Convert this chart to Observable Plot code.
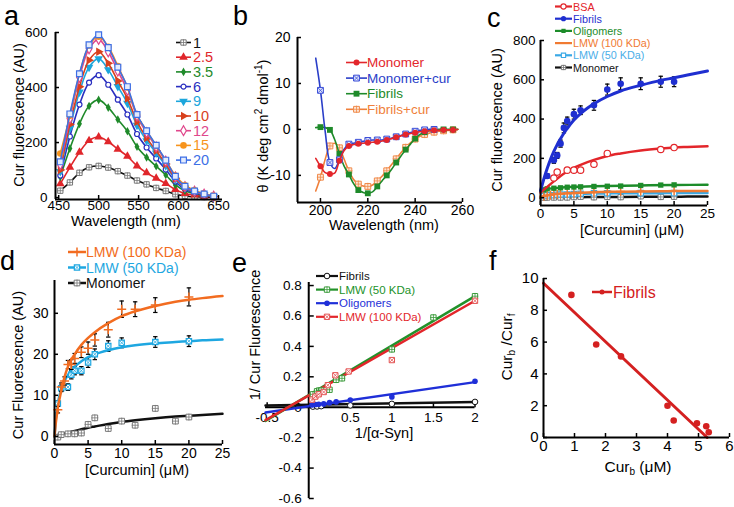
<!DOCTYPE html>
<html><head><meta charset="utf-8">
<script src="https://cdn.jsdelivr.net/npm/d3@7"></script>
<script src="https://cdn.jsdelivr.net/npm/@observablehq/plot@0.6"></script>
<style>
body{margin:0;background:#fff;}
#wrap{position:relative;width:734px;height:507px;overflow:hidden;background:#fff;font-family:"Liberation Sans",Arial,Helvetica,sans-serif;}
#wrap > svg{position:absolute;left:0;top:0;}
</style></head><body><div id="wrap"></div>
<script>
// ================= DATA =================
// Panel a: curcumin fluorescence spectra at increasing fibril concentration
const aWavelength = [452,464,476,488,500,512,524,536,548,560,572,584,596,608,620,632,644];
const aConcLabels = ["1","2.5","3.5","6","9","10","12","15","20"];
const aConc1   = [25,55,90,110,115,109,96,80,62,48,35,24,12,6,3,2,1];
const aConc2_5 = [50,110,165,207,220,203,176,150,115,90,70,51,29,15,9,5,2];
const aConc3_5 = [75,178,268,333,355,327,284,241,185,146,114,82,46,25,14,8,3];
const aConc6   = [80,222,338,418,445,410,356,302,231,182,142,102,58,31,18,10,4];
const aConc9   = [95,252,384,474,505,465,404,343,263,207,162,116,66,35,20,11,4];
const aConc10  = [100,266,403,499,530,488,424,360,276,217,170,122,69,37,21,12,4];
const aConc12  = [120,287,437,541,575,530,460,390,296,236,184,132,75,40,23,12,5];
const aConc15  = [160,297,450,553,585,548,478,400,300,243,188,135,80,45,26,14,6];
const aConc20  = [130,304,450,555,592,545,474,403,302,243,190,136,77,41,24,13,5];
const aSeries = [aConc1,aConc2_5,aConc3_5,aConc6,aConc9,aConc10,aConc12,aConc15,aConc20];

// Panel b: CD spectra
const bWavelength = [198,200,202,204,206,208,210,212,214,216,218,220,222,224,226,228,230,232,234,236,238,240,242,244,246,248,250,252,254,256,258];
const bLabels = ["Monomer","Monomer+cur","Fibrils","Fibrils+cur"];
const bMonomer    = [-6.3,-8.0,-9.4,-9.7,-9.5,-6.8,-4.6,-3.6,-3.3,-3.1,-3.0,-2.9,-2.8,-2.7,-2.5,-2.3,-2.0,-1.7,-1.4,-1.1,-0.9,-0.7,-0.5,-0.4,-0.3,-0.2,-0.2,-0.1,-0.1,-0.1,0];
const bMonomerCur = [15.5,8.5,-0.5,-7.2,-8.5,-6.6,-4.3,-3.2,-3.0,-2.8,-2.6,-2.4,-2.3,-2.3,-2.3,-2.1,-1.9,-1.6,-1.3,-1.0,-0.7,-0.4,-0.2,-0.1,0,0,null,null,null,null,null];
const bFibrils    = [0.4,0.5,0.4,-0.1,-2.2,-5.3,-8.0,-9.8,-11.8,-13.2,-13.7,-13.9,-13.6,-12.4,-11.2,-10.0,-8.7,-7.2,-5.8,-4.4,-3.2,-2.0,-1.1,-0.6,-0.3,-0.1,0,0,0,0,0];
const bFibrilsCur = [-13.4,-10.4,-6.5,-3.6,-3.0,-4.0,-6.5,-9.0,-10.9,-11.9,-12.3,-12.4,-12.1,-11.2,-10.2,-9.0,-7.7,-6.4,-5.1,-3.9,-2.9,-2.1,-1.5,-1.1,-0.8,-0.6,-0.4,-0.3,-0.2,-0.1,0];

// Panel c: binding curves
const cLabels = ["BSA","Fibrils","Oligomers","LMW (100 KDa)","LMW (50 KDa)","Monomer"];
const cFibrilsX   = [1,2,2.5,3,3.5,4,5,6,8,10,12,15,18,20];
const cFibrilsY   = [110,190,215,275,355,390,425,445,470,550,580,580,590,590];
const cFibrilsErr = [12,15,15,18,25,20,25,22,25,28,30,30,28,25];
const cFibrilsFitX = [0,0.5,1,1.5,2,2.5,3,3.5,4,5,6,7,8,10,12,15,18,20,22,25];
const cFibrilsFitY = [35,95,148,195,235,270,300,328,352,395,428,455,478,515,543,572,597,610,624,645];
const cBsaX   = [2,2.5,4,5,6,8,10,18,20];
const cBsaY   = [100,130,140,140,140,170,225,245,255];
const cBsaErr = [5,5,5,5,5,8,10,8,8];
const cBsaFitX = [0,1,2,3,4,5,6,8,10,12,15,18,20,22,25];
const cBsaFitY = [25,55,83,110,133,152,167,192,212,225,240,250,255,258,262];
const cOligoX = [0.5,1,2,3,4,5,6,8,10,12,15,18,20];
const cOligoY = [40,45,48,50,53,54,55,57,58,59,62,64,65];
const cOligoFitX = [0,1,2,3,4,5,6,8,10,15,20,25];
const cOligoFitY = [35,44,48,51,53,55,56,58,59,62,64,66];

// Panel d: LMW and monomer binding
const dLabels = ["LMW (100 KDa)","LMW (50 KDa)","Monomer"];
const dLmw100X   = [0.5,1,1.5,2,2.5,3,4,5,6,8,10,12,15,20];
const dLmw100Y   = [6.5,12,13.5,17.5,17.5,19,20.5,21.5,23.5,26,31,31,32,34];
const dLmw100Err = [0.8,1,1,1,1.2,1.2,1.3,1.5,1.5,1.8,2,1.8,1.8,2.2];
const dLmw100FitX = [0,0.25,0.5,1,1.5,2,3,4,5,6,8,10,12,15,18,20,22,25];
const dLmw100FitY = [0,4,7,11,14.5,17,20,22.3,24,25.4,27.6,29.3,30.5,31.8,32.8,33.3,33.7,34.2];
const dLmw50X   = [0.5,1,2,2.5,3,4,5,6,8,10,15,20];
const dLmw50Y   = [8,11.7,12,15,16,16,18,20,22,22.8,23,23.2];
const dLmw50Err = [0.7,0.8,0.8,1,1,1,1.2,1.3,1.3,1.2,1.3,1.3];
const dLmw50FitX = [0,0.25,0.5,1,1.5,2,3,4,5,6,8,10,12,15,18,20,22,25];
const dLmw50FitY = [0,5,8,11.5,13.5,15,17,18.3,19.3,20,21,21.7,22.2,22.7,23,23.2,23.4,23.6];
const dMonoX = [0.5,1,2,3,4,5,6,8,10,12,15,18,20];
const dMonoY = [-0.2,0.4,0.6,0.6,0.8,2.9,4.5,1.9,3.7,2.7,6.8,3.7,4.7];
const dMonoFitX = [0,1,2,3,4,5,6,8,10,12,15,18,20,22,25];
const dMonoFitY = [0,0.5,0.9,1.3,1.7,2.1,2.4,3.0,3.5,3.9,4.4,4.8,5.0,5.2,5.5];

// Panel e: double reciprocal plot
const eLabels = ["Fibrils","LMW (50 KDa)","Oligomers","LMW (100 KDa)"];
const eFibX = [0.05,0.1,0.15,0.5,1,2];
const eFibY = [0.004,0.005,0.007,0.012,0.022,0.035];
const eFibFitX = [-0.52,2];  const eFibFitY = [0.012,0.034];
const eL50X = [0.05,0.1,0.125,0.15,0.25,0.33,0.4,1,1.5,2];
const eL50Y = [0.085,0.105,0.11,0.11,0.115,0.18,0.19,0.38,0.59,0.73];
const eL50FitX = [-0.52,2];  const eL50FitY = [-0.09,0.73];
const eOliX = [0.04,0.08,0.12,0.18,0.25,0.33,0.5,1,2];
const eOliY = [0.015,0.018,0.02,0.022,0.03,0.035,0.048,0.068,0.171];
const eOliFitX = [-0.52,2];  const eOliFitY = [-0.035,0.165];
const eL100X = [0.04,0.08,0.12,0.18,0.23,0.32,0.48,1,2];
const eL100Y = [0.05,0.07,0.085,0.1,0.145,0.21,0.235,0.31,0.70];
const eL100FitX = [-0.52,2]; const eL100FitY = [-0.085,0.70];
const eXTicks = [-0.5,0.5,1,1.5,2];
const eYTicks = [0.8,0.6,0.4,0.2,0,-0.2,-0.4,-0.6];

// Panel f: Scatchard plot
const fLabel = "Fibrils";
const fCurbX = [0.9,1.7,2.5,4.0,4.2,4.95,5.25,5.33];
const fRatioY = [8.97,5.85,5.1,2.0,1.07,0.9,0.71,0.33];
const fFitX = [0,5.28]; const fFitY = [9.7,0];

// ================= HELPERS =================
const FONT = '"Liberation Sans", Arial, Helvetica, sans-serif';
const W = 734, H = 507;
const wrap = document.getElementById("wrap");
const rows = (xs, ys, es) => xs.map((x,i)=>({x, y: ys[i], e: es ? es[i] : 0})).filter(d => d.y != null);
const hline = {draw(ctx, size){ const w = Math.sqrt(size/Math.PI); ctx.moveTo(-w,0); ctx.lineTo(w,0);} };
const vline = {draw(ctx, size){ const w = Math.sqrt(size/Math.PI); ctx.moveTo(0,-w); ctx.lineTo(0,w);} };

function pts(data, mk) {
  const out = [Plot.dot(data, {x:"x", y:"y", symbol: mk.sym, r: mk.r, fill: mk.fill, stroke: mk.stroke || "none", strokeWidth: mk.sw || 1, rotate: mk.rot || 0})];
  if (mk.inner) out.push(Plot.dot(data, {x:"x", y:"y", symbol: mk.inner, r: mk.r*0.75, stroke: mk.stroke, strokeWidth: 0.8}));
  return out;
}
function errs(data) {
  return [
    Plot.ruleX(data, {x:"x", y1: d=>d.y-d.e, y2: d=>d.y+d.e, stroke:"#000", strokeWidth:1.2}),
    Plot.dot(data, {x:"x", y: d=>d.y+d.e, symbol: hline, r: 2.2, stroke:"#000", strokeWidth:1.2}),
    Plot.dot(data, {x:"x", y: d=>d.y-d.e, symbol: hline, r: 2.2, stroke:"#000", strokeWidth:1.2})
  ];
}
function panel(box, xd, yd, marks, extra={}) {
  const [L,T,R,B] = box;
  const svg = Plot.plot({
    width: W, height: H,
    marginLeft: L, marginTop: T, marginRight: W-R, marginBottom: H-B,
    x: {domain: xd, ...(extra.x||{})}, y: {domain: yd, ...(extra.y||{})},
    style: {background:"transparent", fontFamily: FONT, color:"#000", overflow:"visible"},
    marks
  });
  wrap.appendChild(svg);
}
function stdAxes(xd, yd, xt, yt, fs, px, py) {
  const fmt = d => String(d);
  return [
    Plot.axisX(xt, {tickSize:4, dy:-4, tickFormat:()=>"", strokeWidth:1.5, label:null}),
    Plot.axisY(yt, {tickSize:4, dx:4, tickFormat:()=>"", strokeWidth:1.5, label:null}),
    Plot.axisX(xt, {tickSize:0, tickPadding:px, tickFormat:fmt, fontSize:fs, label:null}),
    Plot.axisY(yt, {tickSize:0, tickPadding:py, tickFormat:fmt, fontSize:fs, label:null}),
    Plot.ruleX([xd[0]], {strokeWidth:2}),
    Plot.ruleY([yd[0]], {strokeWidth:2})
  ];
}

// ================= PANEL A =================
const aLine = ["#111","#e0262b","#1f8a2a","#2a2fc0","#1ca6dc","#d8401c","#e0478c","#f7941d","#3d6fe6"];
const aText = ["#111","#e0262b","#1f8a2a","#2a2fc0","#1ca6dc","#d8401c","#e0478c","#f7941d","#3d6fe6"];
const aMk = [
  {sym:"square", r:3, fill:"#fff", stroke:"#777", inner:"plus"},
  {sym:"triangle", r:3.2, fill:"#e0262b"},
  {sym:"diamond", r:2.6, fill:"#1f8a2a"},
  {sym:"circle", r:2.5, fill:"#fff", stroke:"#2a2fc0", sw:1.2},
  {sym:"triangle", r:3.2, fill:"#1ca6dc", rot:180},
  {sym:"triangle", r:3.2, fill:"#d8401c", rot:90},
  {sym:"diamond", r:3, fill:"#fff", stroke:"#e0478c", sw:1.2},
  {sym:"circle", r:3.3, fill:"#f7941d"},
  {sym:"square", r:3.3, fill:"#e3ebfc", stroke:"#3d6fe6", sw:1.2}
];
{
  const xd=[446,655], yd=[-7,600];
  const marks = [];
  aSeries.forEach((vals, i) => {
    const data = rows(aWavelength, vals);
    marks.push(Plot.line(data, {x:"x", y:"y", stroke:aLine[i], strokeWidth:1.6, curve:"catmull-rom"}));
    marks.push(...pts(data, aMk[i]));
  });
  marks.push(...stdAxes(xd, yd, [450,500,550,600,650], [0,200,400,600], 13.5, 1, 8));
  panel([55,32,222,199], xd, yd, marks);
}

// ================= PANEL B =================
const bColors = ["#e3262b","#2a3ec8","#1e8a2a","#f07f3a"];
const bMk = [
  {sym:"circle", r:3, fill:"#e3262b"},
  {sym:"square", r:3.3, fill:"#e1e6fb", stroke:"#3a4ed8", inner:"times"},
  {sym:"square", r:3.3, fill:"#1e8a2a"},
  {sym:"square", r:3.3, fill:"#fde6d6", stroke:"#f08a4a", inner:"plus"}
];
{
  const xd=[190.3,260], yd=[-15.9,20];
  const series = [bMonomer,bMonomerCur,bFibrils,bFibrilsCur];
  const order = [3,2,1,0];
  const marks = [];
  for (const i of order) {
    const data = rows(bWavelength, series[i]);
    marks.push(Plot.line(data, {x:"x", y:"y", stroke:bColors[i], strokeWidth:1.6, curve:"catmull-rom"}));
    marks.push(...pts(data.filter((d,k)=>k%2===1), bMk[i]));
  }
  marks.push(...stdAxes(xd, yd, [200,220,240,260], [-10,0,10,20], 14, 3, 7));
  panel([297,37,462,202], xd, yd, marks);
}

// ================= PANEL C =================
const cColors = ["#e3262b","#1f2fd0","#1d8c2a","#f07a32","#3aa9e6","#111"];
const cMk = [
  {sym:"circle", r:3.2, fill:"#fff", stroke:"#e3262b", sw:1.2},
  {sym:"circle", r:3.3, fill:"#1f2fd0"},
  {sym:"square", r:3, fill:"#1d8c2a"},
  {sym:"plus", r:3, fill:"none", stroke:"#f07a32", sw:1.5},
  {sym:"square", r:3, fill:"#fff", stroke:"#3aa9e6", sw:1.2},
  {sym:"square", r:3, fill:"#fff", stroke:"#777", inner:"plus"}
];
{
  const xd=[0,25], yd=[-40,800];
  const marks = [];
  marks.push(Plot.line(rows(dMonoFitX,dMonoFitY), {x:"x",y:"y",stroke:cColors[5],strokeWidth:2.5,curve:"monotone-x"}));
  marks.push(...pts(rows(dMonoX,dMonoY), cMk[5]));
  marks.push(Plot.line(rows(dLmw50FitX,dLmw50FitY), {x:"x",y:"y",stroke:cColors[4],strokeWidth:2.5,curve:"monotone-x"}));
  marks.push(...pts(rows(dLmw50X,dLmw50Y), cMk[4]));
  marks.push(Plot.line(rows(dLmw100FitX,dLmw100FitY), {x:"x",y:"y",stroke:cColors[3],strokeWidth:2.5,curve:"monotone-x"}));
  marks.push(...pts(rows(dLmw100X,dLmw100Y), cMk[3]));
  marks.push(Plot.line(rows(cOligoFitX,cOligoFitY), {x:"x",y:"y",stroke:cColors[2],strokeWidth:2.5,curve:"monotone-x"}));
  marks.push(...pts(rows(cOligoX,cOligoY), cMk[2]));
  const bsa = rows(cBsaX,cBsaY,cBsaErr);
  marks.push(...errs(bsa));
  marks.push(Plot.line(rows(cBsaFitX,cBsaFitY), {x:"x",y:"y",stroke:cColors[0],strokeWidth:2.5,curve:"monotone-x"}));
  marks.push(...pts(bsa, cMk[0]));
  const fib = rows(cFibrilsX,cFibrilsY,cFibrilsErr);
  marks.push(...errs(fib));
  marks.push(Plot.line(rows(cFibrilsFitX,cFibrilsFitY), {x:"x",y:"y",stroke:cColors[1],strokeWidth:3,curve:"monotone-x"}));
  marks.push(...pts(fib, cMk[1]));
  marks.push(...stdAxes(xd, yd, [0,5,10,15,20,25], [0,200,400,600,800], 13.5, 3, 5));
  panel([540,40,707,205], xd, yd, marks);
}

// ================= PANEL D =================
const dColors = ["#f26c20","#1ea7e1","#111"];
const dMk = [
  {sym:"plus", r:3, fill:"none", stroke:"#f26c20", sw:1.5},
  {sym:"square", r:3, fill:"#fff", stroke:"#1ea7e1", sw:1.2, inner:"times"},
  {sym:"square", r:3.2, fill:"#fff", stroke:"#777", inner:"plus"}
];
{
  const xd=[0,25], yd=[-2,38];
  const marks = [];
  marks.push(Plot.line(rows(dMonoFitX,dMonoFitY), {x:"x",y:"y",stroke:dColors[2],strokeWidth:2.5,curve:"monotone-x"}));
  marks.push(...pts(rows(dMonoX,dMonoY), dMk[2]));
  const l50 = rows(dLmw50X,dLmw50Y,dLmw50Err);
  marks.push(...errs(l50));
  marks.push(Plot.line(rows(dLmw50FitX,dLmw50FitY), {x:"x",y:"y",stroke:dColors[1],strokeWidth:2.5,curve:"monotone-x"}));
  marks.push(...pts(l50, dMk[1]));
  const l100 = rows(dLmw100X,dLmw100Y,dLmw100Err);
  marks.push(...errs(l100));
  marks.push(Plot.line(rows(dLmw100FitX,dLmw100FitY), {x:"x",y:"y",stroke:dColors[0],strokeWidth:2.5,curve:"monotone-x"}));
  marks.push(...pts(l100, dMk[0]));
  marks.push(...stdAxes(xd, yd, [0,5,10,15,20,25], [0,10,20,30], 14, 4, 6));
  panel([54,280,222,444], xd, yd, marks);
}

// ================= PANEL E =================
const eColors = ["#111","#22922a","#1f2fd8","#e3262b"];
const eMk = [
  {sym:"circle", r:2.8, fill:"#fff", stroke:"#111", sw:1},
  {sym:"square", r:3, fill:"#fff", stroke:"#3a9a3a", sw:1, inner:"plus"},
  {sym:"circle", r:2.8, fill:"#1f2fd8"},
  {sym:"square", r:3, fill:"#fff", stroke:"#e35050", sw:1, inner:"times"}
];
{
  const xd=[-0.52,2.0], yd=[-0.6,0.82];
  const marks = [
    Plot.ruleX([0], {strokeWidth:2}),
    Plot.ruleY([0], {strokeWidth:2}),
    Plot.dot(eYTicks, {x:()=>0, y:d=>d, symbol:hline, r:2.5, dx:2.5, stroke:"#000", strokeWidth:1.5}),
    Plot.dot(eXTicks, {x:d=>d, y:()=>0, symbol:vline, r:2.5, dy:-2.5, stroke:"#000", strokeWidth:1.5}),
    Plot.text(eYTicks, {x:()=>0, y:d=>d, text:d=>String(d), dx:-7, textAnchor:"end", fontSize:13.5}),
    Plot.text(eXTicks, {x:d=>d, y:()=>0, text:d=>String(d), dy:10, fontSize:13.5})
  ];
  const fits = [[eFibFitX,eFibFitY],[eL50FitX,eL50FitY],[eOliFitX,eOliFitY],[eL100FitX,eL100FitY]];
  const ptsd = [[eFibX,eFibY],[eL50X,eL50Y],[eOliX,eOliY],[eL100X,eL100Y]];
  for (const i of [0,2,1,3]) {
    marks.push(Plot.line(rows(fits[i][0],fits[i][1]), {x:"x",y:"y",stroke:eColors[i],strokeWidth:2.5}));
  }
  for (const i of [0,2,1,3]) marks.push(...pts(rows(ptsd[i][0],ptsd[i][1]), eMk[i]));
  panel([265,282,474.5,498], xd, yd, marks, {x:{axis:null}, y:{axis:null}});
}

// ================= PANEL F =================
const fColor = "#d42020";
{
  const xd=[0,6], yd=[0,10];
  const marks = [
    Plot.line(rows(fFitX,fFitY), {x:"x",y:"y",stroke:fColor,strokeWidth:3}),
    Plot.dot(rows(fCurbX,fRatioY), {x:"x",y:"y",r:3.3,fill:fColor}),
    ...stdAxes(xd, yd, [0,1,2,3,4,5,6], [0,2,4,6,8,10], 15, 3, 5)
  ];
  panel([543,278,729,437], xd, yd, marks);
}

// ================= OVERLAY TEXT & LEGENDS =================
const ov = d3.select(wrap).append("svg").attr("width",W).attr("height",H)
  .style("position","absolute").style("left","0").style("top","0").style("font-family",FONT);
const symMap = {circle:d3.symbolCircle, square:d3.symbolSquare, triangle:d3.symbolTriangle, diamond:d3.symbolDiamond, plus:d3.symbolPlus, times:d3.symbolTimes};
function drawMk(cx, cy, mk) {
  ov.append("path").attr("d", d3.symbol(symMap[mk.sym], Math.PI*mk.r*mk.r)())
    .attr("transform",`translate(${cx},${cy}) rotate(${mk.rot||0})`)
    .attr("fill", mk.fill).attr("stroke", mk.stroke||"none").attr("stroke-width", mk.sw||1);
  if (mk.inner) ov.append("path").attr("d", d3.symbol(symMap[mk.inner], Math.PI*(mk.r*0.75)**2)())
    .attr("transform",`translate(${cx},${cy})`).attr("fill","none").attr("stroke",mk.stroke).attr("stroke-width",0.8);
}
function legend(labels, colors, tcolors, mks, o) {
  labels.forEach((lab,i) => {
    const y = o.y0 + i*o.step;
    ov.append("line").attr("x1",o.x1).attr("x2",o.x2).attr("y1",y).attr("y2",y).attr("stroke",colors[i]).attr("stroke-width",o.lw);
    if (mks[i]) drawMk((o.x1+o.x2)/2, y, mks[i]);
    ov.append("text").attr("x",o.tx).attr("y",y).attr("dominant-baseline","central")
      .attr("font-size",o.fs).attr("fill",tcolors[i]).text(lab);
  });
}
function txt(x, y, html, {size=14.5, rot=0, anchor="middle", base="central", weight="normal"}={}) {
  ov.append("text").attr("transform",`translate(${x},${y}) rotate(${rot})`)
    .attr("text-anchor",anchor).attr("dominant-baseline",base).attr("font-size",size)
    .attr("font-weight",weight).attr("fill","#000").html(html);
}

// legends
legend(aConcLabels, aLine, aText, aMk, {x1:176, x2:191, y0:42.5, step:14.7, tx:193, fs:14.5, lw:1.6});
legend(bLabels, bColors, bColors, bMk, {x1:346, x2:367, y0:62.5, step:15.6, tx:367, fs:13.5, lw:1.6});
legend(cLabels, cColors, ["#e3262b","#1f2fd0","#1d8c2a","#f07a32","#4aaee8","#111"],
  [{sym:"circle", r:2.6, fill:"#fff", stroke:"#e3262b", sw:1.1},{sym:"circle", r:2.6, fill:"#1f2fd0"},{sym:"square", r:2.4, fill:"#1d8c2a"},null,{sym:"square", r:2.4, fill:"#fff", stroke:"#3aa9e6", sw:1.1},{sym:"square", r:2.4, fill:"#fff", stroke:"#777", inner:"plus"}],
  {x1:555, x2:572, y0:6.5, step:12.2, tx:573, fs:10.8, lw:2.2});
legend(dLabels, dColors, dColors, dMk, {x1:68, x2:86, y0:252, step:15.5, tx:86, fs:14, lw:2.5});
legend(eLabels, eColors, eColors, eMk, {x1:316, x2:338, y0:276, step:13.6, tx:339, fs:11.5, lw:2.2});
legend([fLabel], [fColor], [fColor], [{sym:"circle", r:2.5, fill:fColor}], {x1:592, x2:612, y0:292, step:0, tx:613, fs:16, lw:2.5});

// panel letters
const LET = 27;
txt(4, 25, "a", {size:LET, anchor:"start", base:"auto"});
txt(233, 25, "b", {size:LET, anchor:"start", base:"auto"});
txt(487, 27, "c", {size:LET, anchor:"start", base:"auto"});
txt(0, 270, "d", {size:LET, anchor:"start", base:"auto"});
txt(232, 272, "e", {size:LET, anchor:"start", base:"auto"});
txt(489, 270, "f", {size:LET, anchor:"start", base:"auto"});

// axis titles
txt(19, 115, "Cur fluorescence (AU)", {rot:-90});
txt(126, 221, "Wavelength (nm)");
txt(263, 126, 'θ (K deg cm<tspan dy="-5" font-size="10">2</tspan><tspan dy="5"> dmol</tspan><tspan dy="-5" font-size="10">-1</tspan><tspan dy="5">)</tspan>', {rot:-90});
txt(384, 225, "Wavelength (nm)");
txt(497, 120, "Cur fluorescence (AU)", {rot:-90});
txt(632, 230, "[Curcumin] (μM)");
txt(18, 365, "Cur Fluorescence (AU)", {rot:-90});
txt(137, 470, "[Curcumin] (μM)");
txt(255, 335, "1/ Cur Fluorescence", {rot:-90});
txt(384, 433, "1/[α-Syn]");
txt(506, 347, 'Cur<tspan dy="5" font-size="10">b</tspan><tspan dy="-5"> /Cur</tspan><tspan dy="5" font-size="10">f</tspan>', {rot:-90, size:15.5});
txt(638, 466, 'Cur<tspan dy="5" font-size="10">b</tspan><tspan dy="-5"> (μM)</tspan>', {size:15.5});
</script></body></html>
